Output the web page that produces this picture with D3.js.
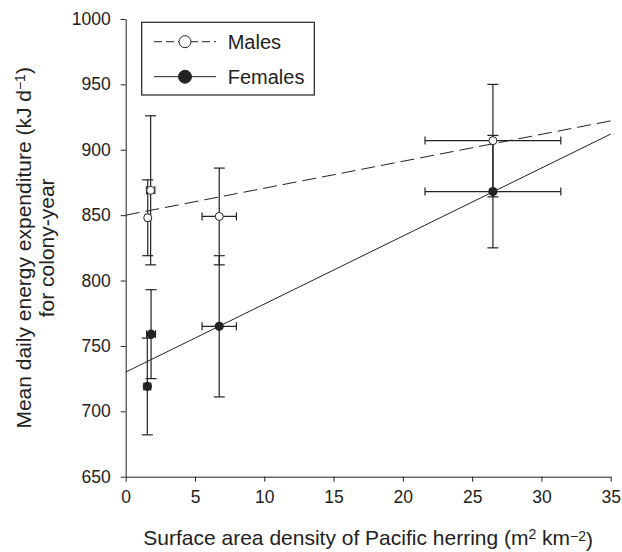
<!DOCTYPE html>
<html>
<head>
<meta charset="utf-8">
<script src="https://cdn.jsdelivr.net/npm/d3@7"></script>
<style>
  body { margin: 0; background: #fff; }
  svg { display: block; font-family: "Liberation Sans", Arial, sans-serif; }
</style>
</head>
<body>
<div id="chart"></div>
<script>
// values
const maleX = [1.59, 1.8, 6.75, 26.5];
const maleY = [848, 869, 849, 907];
const maleXErr = [0.15, 0.3, 1.24, 4.9];
const maleYErr = [29, 57, 37, 43];

const femaleX = [1.56, 1.83, 6.75, 26.5];
const femaleY = [719, 759, 765, 868];
const femaleXErr = [0.25, 0.32, 1.24, 4.9];
const femaleYErr = [37, 34, 54, 43];

// regression lines [intercept, slope]
const maleFit = [850, 2.06];
const femaleFit = [730, 5.2];

const xTicks = [0, 5, 10, 15, 20, 25, 30, 35];
const yTicks = [650, 700, 750, 800, 850, 900, 950, 1000];

const width = 622;
const height = 552;
const margin = { top: 19, right: 11.3, bottom: 75.3, left: 125.7 };
const ink = "#222";

const svg = d3
  .select("#chart")
  .append("svg")
  .attr("width", width)
  .attr("height", height);

const x = d3
  .scaleLinear()
  .domain([0, 35])
  .range([margin.left, width - margin.right]);
const y = d3
  .scaleLinear()
  .domain([650, 1000])
  .range([height - margin.bottom, margin.top]);

// axes
const xAxis = svg
  .append("g")
  .attr("transform", `translate(0,${y(650)})`)
  .call(d3.axisBottom(x).tickValues(xTicks).tickSize(5).tickSizeOuter(0).tickPadding(9));
const yAxis = svg
  .append("g")
  .attr("transform", `translate(${x(0)},0)`)
  .call(
    d3.axisLeft(y).tickValues(yTicks).tickFormat(d3.format("d"))
      .tickSize(5).tickSizeOuter(0).tickPadding(10)
  );

[xAxis, yAxis].forEach((g) => {
  g.select(".domain").attr("stroke", ink);
  g.selectAll(".tick line").attr("stroke", ink);
  g.selectAll(".tick text")
    .attr("fill", ink)
    .style("font-size", "17.5px")
    .style("font-family", "Liberation Sans, Arial, sans-serif");
});

// axis titles
const xTitle = svg
  .append("text")
  .attr("x", (x(0) + x(35)) / 2)
  .attr("y", 545)
  .attr("text-anchor", "middle")
  .attr("fill", ink)
  .style("font-size", "21px");
xTitle.append("tspan").text("Surface area density of Pacific herring (m");
xTitle.append("tspan").attr("dy", "-0.4em").style("font-size", "14px").text("2");
xTitle.append("tspan").attr("dy", "0.27em").text(" km");
xTitle.append("tspan").attr("dy", "-0.27em").style("font-size", "14px").text("\u22122");
xTitle.append("tspan").attr("dy", "0.27em").text(")");

const yMid = (y(650) + y(1000)) / 2;
const yTitle = svg
  .append("text")
  .attr("transform", `translate(31,${yMid}) rotate(-90)`)
  .attr("text-anchor", "middle")
  .attr("fill", ink)
  .style("font-size", "21px");
yTitle.append("tspan").text("Mean daily energy expenditure (kJ d");
yTitle.append("tspan").attr("dy", "-0.4em").style("font-size", "14px").text("\u22121");
yTitle.append("tspan").attr("dy", "0.27em").text(")");
svg
  .append("text")
  .attr("transform", `translate(54,${yMid}) rotate(-90)`)
  .attr("text-anchor", "middle")
  .attr("fill", ink)
  .style("font-size", "21px")
  .text("for colony-year");

// fitted lines
const fitLine = (fit) => [
  [0, fit[0]],
  [35, fit[0] + fit[1] * 35],
];
const line = d3
  .line()
  .x((d) => x(d[0]))
  .y((d) => y(d[1]));

svg
  .append("path")
  .attr("d", line(fitLine(maleFit)))
  .attr("fill", "none")
  .attr("stroke", ink)
  .attr("stroke-width", 1)
  .attr("stroke-dasharray", "14,6");
svg
  .append("path")
  .attr("d", line(fitLine(femaleFit)))
  .attr("fill", "none")
  .attr("stroke", ink)
  .attr("stroke-width", 1);

function series(xs, ys, xErr, yErr) {
  return xs.map((v, i) => ({ x: v, y: ys[i], xe: xErr[i], ye: yErr[i] }));
}
const males = series(maleX, maleY, maleXErr, maleYErr);
const females = series(femaleX, femaleY, femaleXErr, femaleYErr);

function errorBars(data) {
  const g = svg.append("g").attr("stroke", ink).attr("stroke-width", 1.2);
  data.forEach((d) => {
    const cx = x(d.x);
    const cy = y(d.y);
    const y0 = y(d.y - d.ye);
    const y1 = y(d.y + d.ye);
    const x0 = x(d.x - d.xe);
    const x1 = x(d.x + d.xe);
    g.append("line").attr("x1", cx).attr("x2", cx).attr("y1", y0).attr("y2", y1);
    g.append("line").attr("x1", cx - 5.5).attr("x2", cx + 5.5).attr("y1", y0).attr("y2", y0);
    g.append("line").attr("x1", cx - 5.5).attr("x2", cx + 5.5).attr("y1", y1).attr("y2", y1);
    g.append("line").attr("x1", x0).attr("x2", x1).attr("y1", cy).attr("y2", cy);
    g.append("line").attr("x1", x0).attr("x2", x0).attr("y1", cy - 4).attr("y2", cy + 4);
    g.append("line").attr("x1", x1).attr("x2", x1).attr("y1", cy - 4).attr("y2", cy + 4);
  });
}
errorBars(males);
errorBars(females);

svg
  .append("g")
  .selectAll("circle")
  .data(males)
  .join("circle")
  .attr("cx", (d) => x(d.x))
  .attr("cy", (d) => y(d.y))
  .attr("r", 4)
  .attr("fill", "#fff")
  .attr("stroke", ink)
  .attr("stroke-width", 1);
svg
  .append("g")
  .selectAll("circle")
  .data(females)
  .join("circle")
  .attr("cx", (d) => x(d.x))
  .attr("cy", (d) => y(d.y))
  .attr("r", 4.6)
  .attr("fill", ink);

// legend
const legend = svg.append("g").attr("transform", "translate(141.7,22.3)");
legend
  .append("rect")
  .attr("width", 172.6)
  .attr("height", 72.7)
  .attr("fill", "#fff")
  .attr("stroke", ink)
  .attr("stroke-width", 1.2);

const legendItems = [
  { label: "Males", dash: "8,4", fill: "#fff", r: 6 },
  { label: "Females", dash: null, fill: ink, r: 6.5 },
];
legendItems.forEach((item, i) => {
  const ly = 19.4 + i * 35;
  legend
    .append("line")
    .attr("x1", 12.3)
    .attr("x2", 74.3)
    .attr("y1", ly)
    .attr("y2", ly)
    .attr("stroke", ink)
    .attr("stroke-width", 1)
    .attr("stroke-dasharray", item.dash);
  legend
    .append("circle")
    .attr("cx", 43.3)
    .attr("cy", ly)
    .attr("r", item.r)
    .attr("fill", item.fill)
    .attr("stroke", ink)
    .attr("stroke-width", 1);
  legend
    .append("text")
    .attr("x", 86)
    .attr("y", ly + 7.5)
    .attr("fill", ink)
    .style("font-size", "20px")
    .text(item.label);
});
</script>
</body>
</html>
